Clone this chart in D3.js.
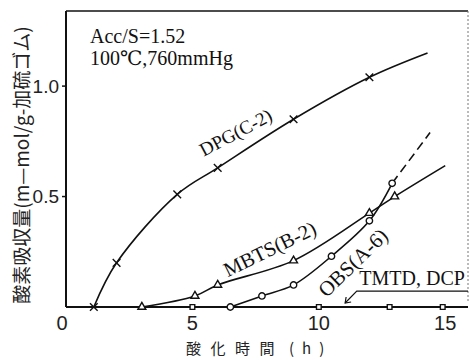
<!DOCTYPE html>
<html>
<head>
<meta charset="utf-8">
<script src="https://cdn.jsdelivr.net/npm/d3@7"></script>
<style>
body { margin: 0; background: #fff; }
</style>
</head>
<body>
<div id="chart"></div>
<script>
// DPG(C-2), crosses
var dpgHours = [1.1, 2, 4.4, 6, 9, 12];
var dpgUptake = [0, 0.2, 0.51, 0.63, 0.85, 1.04];
var dpgEnd = [14.3, 1.15];

// MBTS(B-2), triangles
var mbtsHours = [3, 5.1, 6, 9, 12, 13];
var mbtsUptake = [0, 0.05, 0.1, 0.21, 0.425, 0.5];
var mbtsEnd = [15, 0.64];

// OBS(A-6), circles (dashed past the last point)
var obsHours = [6.5, 7.75, 9, 10.5, 12, 12.9];
var obsUptake = [0, 0.05, 0.1, 0.23, 0.39, 0.56];
var obsEnd = [14.4, 0.79];

// TMTD, DCP, squares - no uptake
var tmtdHours = [5, 10, 12.8, 14.9];
var tmtdUptake = [0, 0, 0, 0];

var xTicks = [0, 5, 10, 15];
var yTicks = [0.5, 1.0];
var yTickLabels = ["0.5", "1.0"];

var width = 470, height = 360;

var svg = d3.select("#chart").append("svg")
    .attr("width", width)
    .attr("height", height);

var x = d3.scaleLinear().domain([0, 15.9]).range([66, 468]),
    y = d3.scaleLinear().domain([0, 1.34]).range([307, 11]);

var serif = "'Liberation Serif', 'DejaVu Serif', serif",
    sans = "'Liberation Sans', Arial, sans-serif",
    cjk = "'Noto Sans CJK JP', sans-serif";

function toPoints(xs, ys, end) {
    var pts = xs.map(function(v, i) { return [v, ys[i]]; });
    if (end) pts.push(end);
    return pts;
}

// frame
var frame = svg.append("g").attr("stroke", "#111").attr("fill", "none");
frame.append("line")
    .attr("x1", x(0)).attr("x2", x(0))
    .attr("y1", y(0)).attr("y2", y(1.34))
    .attr("stroke-width", 2);
frame.append("line")
    .attr("x1", x(0)).attr("x2", x(15.9))
    .attr("y1", y(1.34)).attr("y2", y(1.34))
    .attr("stroke-width", 1.6);
frame.append("line")
    .attr("x1", x(15.9)).attr("x2", x(15.9))
    .attr("y1", y(1.34)).attr("y2", y(0.02))
    .attr("stroke", "#777")
    .attr("stroke-width", 1)
    .attr("stroke-dasharray", "2,2");
frame.append("line")
    .attr("x1", x(0)).attr("x2", x(15.9))
    .attr("y1", y(0)).attr("y2", y(0))
    .attr("stroke-width", 2);

// y ticks
svg.selectAll(".ytick")
    .data(yTicks)
    .enter().append("line")
        .attr("class", "ytick")
        .attr("x1", x(0) - 4).attr("x2", x(0))
        .attr("y1", function(d) { return y(d); })
        .attr("y2", function(d) { return y(d); })
        .attr("stroke", "#111")
        .attr("stroke-width", 1.5);

svg.selectAll(".ylabel")
    .data(yTicks)
    .enter().append("text")
        .attr("class", "ylabel")
        .attr("x", x(0) - 7)
        .attr("y", function(d) { return y(d); })
        .attr("dy", ".35em")
        .attr("text-anchor", "end")
        .attr("font-family", sans)
        .attr("font-size", 19)
        .attr("fill", "#222")
        .text(function(d, i) { return yTickLabels[i]; });

svg.selectAll(".xlabel")
    .data(xTicks)
    .enter().append("text")
        .attr("class", "xlabel")
        .attr("x", function(d) { return d === 0 ? x(d) - 4 : x(d); })
        .attr("y", y(0) + 23)
        .attr("text-anchor", "middle")
        .attr("font-family", sans)
        .attr("font-size", 20)
        .attr("fill", "#222")
        .text(function(d) { return d; });

// axis titles
svg.append("text")
    .attr("transform", "translate(20,165)rotate(-90)")
    .attr("text-anchor", "middle")
    .attr("dominant-baseline", "central")
    .attr("font-family", cjk)
    .attr("font-size", 19)
    .attr("fill", "#222")
    .text("酸素吸収量(m—mol/g-加硫ゴム)");

var xTitle = svg.append("text")
    .attr("x", 186)
    .attr("y", 354)
    .attr("font-family", cjk)
    .attr("font-size", 15)
    .attr("fill", "#222");
xTitle.append("tspan")
    .attr("letter-spacing", 9.5)
    .text("酸化時間");
xTitle.append("tspan")
    .attr("x", 289)
    .attr("letter-spacing", 8)
    .text("(h)");

// conditions
svg.append("text")
    .attr("x", 90).attr("y", 43)
    .attr("font-family", serif)
    .attr("font-size", 20)
    .attr("fill", "#111")
    .text("Acc/S=1.52");
svg.append("text")
    .attr("x", 90).attr("y", 65)
    .attr("font-family", serif)
    .attr("font-size", 20)
    .attr("fill", "#111")
    .text("100℃,760mmHg");

// curves
var line = d3.line()
    .x(function(d) { return x(d[0]); })
    .y(function(d) { return y(d[1]); })
    .curve(d3.curveCatmullRom.alpha(0.5));

var curves = svg.append("g")
    .attr("fill", "none")
    .attr("stroke", "#111")
    .attr("stroke-width", 1.6);

curves.append("path").attr("d", line(toPoints(dpgHours, dpgUptake, dpgEnd)));
curves.append("path").attr("d", line(toPoints(mbtsHours, mbtsUptake, mbtsEnd)));
curves.append("path").attr("d", line(toPoints(obsHours, obsUptake)));
curves.append("path")
    .attr("d", line([[obsHours[obsHours.length - 1], obsUptake[obsUptake.length - 1]], obsEnd]))
    .attr("stroke-dasharray", "9,5");

// markers
function markers(xs, ys, type, size) {
    var sym = d3.symbol().type(type).size(size);
    svg.append("g").selectAll("path")
        .data(toPoints(xs, ys))
        .enter().append("path")
            .attr("transform", function(d) { return "translate(" + x(d[0]) + "," + y(d[1]) + ")"; })
            .attr("d", sym)
            .attr("fill", "#fff")
            .attr("stroke", "#111")
            .attr("stroke-width", 1.4);
}

markers(dpgHours, dpgUptake, d3.symbolTimes, 40);
markers(mbtsHours, mbtsUptake, d3.symbolTriangle2, 45);
markers(obsHours, obsUptake, d3.symbolCircle, 32);
markers(tmtdHours, tmtdUptake, d3.symbolSquare2, 28);

// curve labels
function label(txt, hx, vy, angle, size) {
    svg.append("text")
        .attr("transform", "translate(" + x(hx) + "," + y(vy) + ")rotate(" + angle + ")")
        .attr("font-family", serif)
        .attr("font-size", size)
        .attr("fill", "#111")
        .text(txt);
}

label("DPG(C-2)", 5.45, 0.68, -28, 19);
label("MBTS(B-2)", 6.4, 0.135, -26, 20.5);
label("OBS(A-6)", 10.3, 0.04, -44, 21);
label("TMTD, DCP", 11.6, 0.1, 0, 20);

// leader arrow to the zero line
var leader = [[11.04, 0.018], [11.5, 0.072], [15.9, 0.072]];
svg.append("path")
    .attr("d", d3.line()
        .x(function(d) { return x(d[0]); })
        .y(function(d) { return y(d[1]); })(leader))
    .attr("fill", "none")
    .attr("stroke", "#111")
    .attr("stroke-width", 1.2);
var tip = leader[0];
svg.append("path")
    .attr("d", "M" + (x(tip[0]) + 1) + "," + (y(tip[1]) - 6) + "L" + x(tip[0]) + "," + y(tip[1]) + "L" + (x(tip[0]) + 6) + "," + (y(tip[1]) - 1))
    .attr("fill", "none")
    .attr("stroke", "#111")
    .attr("stroke-width", 1.2);
</script>
</body>
</html>
